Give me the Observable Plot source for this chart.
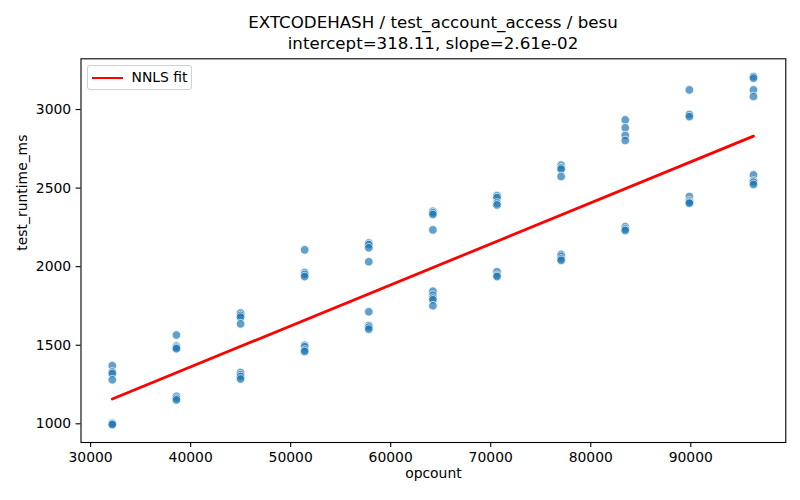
<!DOCTYPE html>
<html>
<head>
<meta charset="utf-8">
<script src="https://cdn.jsdelivr.net/npm/d3@7"></script>
<script src="https://cdn.jsdelivr.net/npm/@observablehq/plot@0.6"></script>
<style>
  body { margin: 0; background: #fff; font-family: "DejaVu Sans", sans-serif; }
  #wrap { position: relative; width: 800px; height: 500px; overflow: hidden; }
  #title { width: 800px; box-sizing: border-box; padding-left: 66px; padding-top: 11.5px; height: 52px;
           text-align: center; font-size: 16.67px; line-height: 21px; color: #000; }
  #legend { position: absolute; left: 86.5px; top: 65px; width: 105px; height: 25px; box-sizing: border-box;
            border: 1px solid #d0d0d0; border-radius: 3px; background: rgba(255,255,255,0.8); }
  #legend .ln { position: absolute; left: 4px; top: 10.5px; width: 31px; height: 2.8px; background: #ff0000; }
  #legend .tx { position: absolute; left: 44px; top: 3px; font-size: 13.9px; line-height: 17px; color: #000; }
</style>
</head>
<body>
<div id="wrap">
  <div id="title">EXTCODEHASH / test_account_access / besu<br>intercept=318.11, slope=2.61e-02</div>
  <div id="chart"></div>
  <div id="legend"><div class="ln"></div><div class="tx">NNLS fit</div></div>
</div>
<script>
const opcounts = [32170, 38580, 44990, 51400, 57810, 64220, 70630, 77040, 83450, 89860, 96270];
const runtimes = [
  [1370, 1330, 1320, 1280, 1005, 1000, 995],
  [1565, 1495, 1485, 1478, 1175, 1162, 1152],
  [1705, 1690, 1678, 1636, 1326, 1312, 1300, 1285],
  [2107, 1962, 1950, 1937, 1500, 1490, 1470, 1460],
  [2150, 2140, 2120, 2031, 1713, 1625, 1615, 1602],
  [2353, 2343, 2332, 2234, 1844, 1818, 1800, 1789, 1751],
  [2452, 2440, 2405, 2393, 1968, 1945, 1937],
  [2646, 2630, 2620, 2574, 2078, 2066, 2050, 2040],
  [2934, 2884, 2835, 2803, 2254, 2240, 2230],
  [3125, 2968, 2955, 2446, 2420, 2410, 2404],
  [3210, 3200, 3125, 3083, 2584, 2545, 2537, 2523]
];
const fitIntercept = 318.11;
const fitSlope = 2.61e-02;
const xTicks = [30000, 40000, 50000, 60000, 70000, 80000, 90000];
const yTicks = [1000, 1500, 2000, 2500, 3000];

const points = [];
opcounts.forEach((x, i) => runtimes[i].forEach(y => points.push({opcount: x, runtime: y})));
const xmin = d3.min(opcounts), xmax = d3.max(opcounts);
const fit = [xmin, xmax].map(x => ({opcount: x, runtime: fitIntercept + fitSlope * x}));

const font = "DejaVu Sans, sans-serif";
const chart = Plot.plot({
  width: 800,
  height: 448,
  marginLeft: 80.5,
  marginRight: 14.7,
  marginTop: 6.3,
  marginBottom: 58,
  style: {fontFamily: font, fontSize: "13.9px", color: "#000", background: "#fff"},
  x: {domain: [29040, 99500]},
  y: {domain: [881, 3323]},
  marks: [
    Plot.axisX({ticks: xTicks, tickFormat: d => String(d), tickSize: 4.9, tickPadding: 4.9, label: null, fontSize: 13.9, strokeWidth: 1.1}),
    Plot.axisY({ticks: yTicks, tickFormat: d => String(d), tickSize: 4.9, tickPadding: 4.9, label: null, fontSize: 13.9, strokeWidth: 1.1}),
    Plot.dot(points, {x: "opcount", y: "runtime", r: 4.3, fill: "#1f77b4", fillOpacity: 0.7, stroke: "#ffffff", strokeWidth: 0.7}),
    Plot.line(fit, {x: "opcount", y: "runtime", stroke: "#ff0000", strokeWidth: 2.8}),
    Plot.frame({stroke: "#000", strokeWidth: 1.1}),
    Plot.text(["opcount"], {frameAnchor: "bottom", dy: 35, fontSize: 13.9, fill: "#000"}),
    Plot.text(["test_runtime_ms"], {frameAnchor: "left", dx: -58.5, rotate: -90, fontSize: 13.9, fill: "#000"})
  ]
});
document.getElementById("chart").appendChild(chart);
</script>
</body>
</html>
